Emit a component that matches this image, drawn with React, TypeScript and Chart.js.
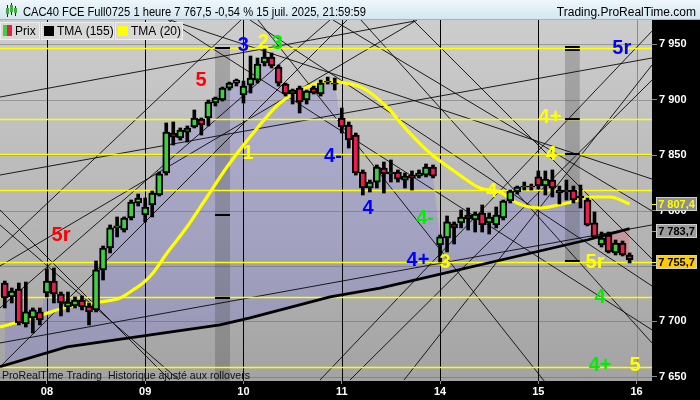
import React, { useEffect, useRef } from "react";
import { Chart, registerables } from "chart.js";

Chart.register(...registerables);

const FONT = '"Liberation Sans", Arial, sans-serif';

// ---- axes ----
const dayTickIdx = [6, 20, 34, 48, 62, 76, 90];
const dayTickLabels = ["08", "09", "10", "11", "14", "15", "16"];
const yTicks = [7650, 7700, 7750, 7800, 7850, 7900, 7950];
const xMin = -0.68;
const xMax = 92.19;
const yMin = 7646.2;
const yMax = 7971.9;

// ---- hourly candles ----
const opens = [
  7734.6, 7722.0, 7729.2, 7697.6, 7703.1, 7708.5, 7725.6, 7736.4, 7724.7, 7713.0,
  7713.9, 7719.3, 7713.9, 7710.3, 7746.4, 7766.2, 7784.3, 7782.4, 7793.3, 7806.8,
  7796.0, 7805.0, 7814.0, 7833.9, 7869.9, 7865.4, 7870.8, 7875.4, 7882.6, 7883.5,
  7897.0, 7899.7, 7910.5, 7915.0, 7904.2, 7913.2, 7917.7, 7933.1, 7938.5, 7929.5,
  7914.1, 7905.1, 7910.5, 7899.7, 7910.5, 7905.1, 7915.9, 7915.0, 7883.5, 7877.2,
  7868.1, 7834.8, 7820.3, 7825.7, 7838.4, 7833.0, 7834.8, 7827.5, 7832.0, 7831.1,
  7832.0, 7839.3, 7768.9, 7775.2, 7787.9, 7788.8, 7796.0, 7791.5, 7797.8, 7788.8,
  7787.0, 7793.3, 7808.6, 7816.7, 7821.2, 7822.1, 7830.3, 7822.1, 7827.5, 7818.5,
  7816.7, 7818.5, 7813.1, 7809.5, 7788.8, 7768.9, 7777.9, 7761.7, 7770.7, 7759.9,
];
const highs = [
  7736.4, 7730.1, 7734.6, 7735.5, 7712.1, 7712.1, 7747.3, 7748.2, 7726.5, 7726.5,
  7722.0, 7722.9, 7716.6, 7754.5, 7768.0, 7787.0, 7794.2, 7794.2, 7809.5, 7814.9,
  7811.3, 7817.6, 7834.8, 7879.0, 7879.9, 7874.5, 7876.3, 7890.7, 7883.5, 7899.7,
  7902.4, 7911.4, 7915.9, 7918.6, 7916.8, 7939.4, 7937.6, 7945.7, 7942.1, 7931.3,
  7915.0, 7909.6, 7912.3, 7908.7, 7912.3, 7917.7, 7920.4, 7919.5, 7892.5, 7879.9,
  7869.9, 7836.6, 7827.5, 7841.1, 7843.8, 7845.6, 7836.6, 7833.9, 7835.7, 7836.6,
  7842.0, 7841.1, 7777.9, 7795.1, 7789.7, 7800.5, 7802.3, 7798.7, 7805.0, 7797.8,
  7803.2, 7809.5, 7818.5, 7822.1, 7825.7, 7823.9, 7835.7, 7835.7, 7836.6, 7822.1,
  7827.5, 7822.1, 7823.0, 7811.3, 7798.7, 7780.6, 7780.6, 7773.4, 7772.5, 7761.7,
];
const lows = [
  7712.1, 7716.6, 7696.8, 7694.9, 7689.5, 7696.8, 7722.0, 7716.6, 7704.9, 7708.5,
  7712.1, 7710.3, 7696.8, 7708.5, 7737.3, 7761.7, 7776.2, 7780.6, 7791.5, 7804.1,
  7789.7, 7794.2, 7813.1, 7832.0, 7859.1, 7863.6, 7861.8, 7874.5, 7868.1, 7876.3,
  7894.3, 7898.8, 7908.7, 7912.3, 7897.0, 7906.0, 7915.0, 7930.4, 7928.6, 7912.3,
  7903.3, 7896.1, 7888.0, 7896.1, 7905.1, 7903.3, 7914.1, 7908.7, 7869.9, 7856.4,
  7832.0, 7814.0, 7816.7, 7820.3, 7815.8, 7825.7, 7825.7, 7820.3, 7818.5, 7829.4,
  7830.3, 7829.4, 7753.6, 7762.6, 7769.8, 7784.3, 7782.4, 7780.6, 7780.6, 7778.8,
  7784.3, 7791.5, 7806.8, 7814.9, 7818.5, 7818.5, 7819.4, 7814.0, 7812.2, 7805.9,
  7809.5, 7806.8, 7802.3, 7786.1, 7775.2, 7767.1, 7761.7, 7759.9, 7759.0, 7752.7,
];
const closes = [
  7721.1, 7727.4, 7698.5, 7708.5, 7710.3, 7701.3, 7736.4, 7724.7, 7716.6, 7717.5,
  7719.3, 7713.0, 7708.5, 7746.4, 7766.2, 7784.3, 7786.1, 7793.3, 7807.7, 7811.3,
  7803.2, 7815.8, 7833.0, 7870.8, 7866.3, 7872.6, 7874.5, 7883.5, 7877.2, 7897.9,
  7901.5, 7910.5, 7915.0, 7917.7, 7912.3, 7919.5, 7932.2, 7938.5, 7930.4, 7915.0,
  7905.1, 7908.7, 7897.9, 7907.8, 7906.0, 7915.0, 7916.8, 7914.1, 7875.4, 7863.6,
  7833.9, 7820.3, 7825.7, 7839.3, 7833.0, 7834.8, 7828.4, 7831.1, 7829.4, 7833.9,
  7839.3, 7831.1, 7776.2, 7789.7, 7784.3, 7794.2, 7792.4, 7796.9, 7787.0, 7794.2,
  7796.0, 7808.6, 7817.6, 7821.2, 7822.1, 7821.2, 7822.1, 7828.4, 7820.3, 7815.8,
  7818.5, 7809.5, 7811.3, 7787.0, 7776.2, 7775.2, 7762.6, 7770.7, 7759.9, 7755.7,
];

// ---- moving averages (read at sample bars) ----
const tma155Idx = [-0.68, 8.86, 30.66, 34.93, 46.33, 53.45, 82.94, 89];
const tma155Val = [7659.1, 7676.9, 7696.8, 7703.1, 7722.0, 7730.1, 7773.4, 7783.7];
const tma20Idx = [
  -0.68, 4.02, 8.86, 13.56, 16.41, 18.26, 19.69, 21.11, 23.11, 25.95, 28.8, 31.65,
  34.93, 39.2, 43.05, 46.33, 47.75, 51.03, 54.43, 57.29, 60.57, 64.42, 67.69, 70.54,
  72.96, 76.24, 80.08, 83.79, 86.21, 89,
];
const tma20Val = [
  7694.9, 7703.1, 7713.0, 7717.5, 7721.1, 7728.3, 7734.6, 7743.7, 7761.7, 7785.1, 7812.2, 7839.3,
  7866.3, 7897.0, 7911.4, 7916.8, 7915.9, 7910.5, 7893.4, 7872.6, 7851.9, 7833.8, 7820.3, 7816.7,
  7806.8, 7802.3, 7806.8, 7812.2, 7812.2, 7806.0,
];

// ---- horizontal levels ----
const yellowLevels = [7946.6, 7882.6, 7851.0, 7818.5, 7753.6, 7722.0, 7658.9];

// ---- trend lines (bar index, value) ----
const lineX1 = [-0.68, -0.68, -0.68, -0.68, -0.68, -0.68, 44.9, 56.87, 49.17, -0.68, -0.68, -0.68, 23.25, 58.15, 50.74, 46.75, 23.53, 36.07, 34.93];
const lineV1 = [7902.4, 7832.05, 7680.5, 7712.1, 7658.9, 7750.0, 7647.1, 7647.1, 7647.1, 7766.2, 7787.0, 7800.5, 7971.9, 7971.9, 7971.9, 7971.9, 7971.9, 7971.9, 7971.9];
const lineX2 = [58.43, 92.19, 92.19, 46.32, 48.75, 58.72, 92.19, 92.19, 92.19, 33.65, 24.81, 23.53, 92.19, 92.19, 92.19, 92.19, 92.19, 76.95, 92.19];
const lineV2 = [7971.0, 7937.6, 7787.0, 7971.9, 7971.9, 7971.9, 7961.9, 7931.3, 7917.7, 7971.9, 7647.1, 7647.1, 7692.3, 7756.3, 7680.5, 7799.6, 7828.4, 7645.3, 7731.9];

// ---- shaded time bands ----
const bandFrom = [29.95, 79.8];
const bandTo = [32.08, 81.9];
const bandTop = [7947.5, 7947.5];
const bandBottom = [7646.2, 7753.6];
const bandMarkBand = [0, 0, 0, 1, 1, 1, 1, 1];
const bandMarkVal = [7946.6, 7796.0, 7721.1, 7947.5, 7944.8, 7882.6, 7851.0, 7754.5];

// ---- wave labels ----
const waveText = ["5r", "5", "3", "2", "3", "1", "4-", "4", "4-", "4+", "3", "4-", "4", "4+", "5r", "5r", "4", "4+", "5"];
const waveColor = ["#ff0000", "#ff0000", "#0000ff", "#ffff00", "#00ee00", "#ffff00", "#0000ff", "#0000ff", "#00ee00", "#0000ff", "#ffff00", "#ffff00", "#ffff00", "#ffff00", "#0000ff", "#ffff00", "#00ee00", "#00ee00", "#ffff00"];
const waveIdx = [8.01, 27.95, 33.97, 36.82, 38.82, 34.64, 46.75, 51.74, 59.86, 58.86, 62.71, 69.83, 77.81, 77.66, 87.88, 84.07, 84.79, 84.79, 89.77];
const waveVal = [7778.8, 7918.6, 7949.6, 7952.6, 7952.0, 7852.8, 7850.1, 7802.3, 7793.3, 7755.4, 7753.6, 7818.5, 7851.9, 7884.4, 7947.2, 7753.6, 7722.9, 7660.7, 7660.7];

// ---- last value boxes ----
const boxVal = [7807.4, 7783.7, 7755.7];
const boxText = ["7 807,4", "7 783,7", "7 755,7"];
const boxBg = ["#8f8f8f", "#9d9d9d", "#ffcc00"];
const boxFg = ["#ffff00", "#000000", "#000000"];
const boxTick = ["#ffff00", "#9d9d9d", "#ffff00"];

const titleText = "CAC40 FCE Full0725 1 heure 7 767,5 -0,54 % 15 juil. 2025, 21:59:59";
const siteText = "Trading.ProRealTime.com";
const footerText = "ProRealTime Trading  Historique ajusté aux rollovers";
const legendText = ["Prix", "TMA (155)", "TMA (20)"];

function fmt(v: number): string {
  const s = String(v);
  return s.slice(0, s.length - 3) + " " + s.slice(-3);
}

export default function App() {
  const canvasRef = useRef<HTMLCanvasElement | null>(null);

  useEffect(() => {
    document.body.style.margin = "0";
    const canvas = canvasRef.current;
    if (!canvas) return;

    const upColor = "#3fd03f";
    const downColor = "#e81f4b";
    const bodyColors = closes.map((c, i) => (c >= opens[i] ? upColor : downColor));
    const lastBar = closes.length - 1;

    const overlay: any = {
      id: "overlay",
      beforeDraw(chart: any) {
        const { ctx, chartArea: a, width, height } = chart;
        ctx.save();
        // title bar
        const tg = ctx.createLinearGradient(0, 0, 0, 20);
        tg.addColorStop(0, "#eef7fb");
        tg.addColorStop(1, "#d2e6ef");
        ctx.fillStyle = tg;
        ctx.fillRect(0, 0, width, 20);
        ctx.fillStyle = "#9db3bf";
        ctx.fillRect(0, 19, width, 1);
        // plot background
        const pg = ctx.createLinearGradient(0, a.top, 0, a.bottom);
        pg.addColorStop(0, "#cdcdcd");
        pg.addColorStop(1, "#a3a3a3");
        ctx.fillStyle = pg;
        ctx.fillRect(a.left, a.top, a.right - a.left, a.bottom - a.top);
        // axis backgrounds
        ctx.fillStyle = "#000";
        ctx.fillRect(a.right, a.top, width - a.right, height - a.top);
        ctx.fillRect(0, a.bottom, width, height - a.bottom);
        // title icon
        ctx.fillStyle = "#222";
        ctx.fillRect(7, 5, 1, 12);
        ctx.fillRect(11, 3, 1, 12);
        ctx.fillRect(15, 6, 1, 10);
        ctx.fillStyle = "#3fb03f";
        ctx.fillRect(6, 8, 3, 6);
        ctx.fillRect(10, 5, 3, 7);
        ctx.fillRect(14, 8, 3, 5);
        // title texts
        ctx.fillStyle = "#000";
        ctx.font = "12px " + FONT;
        ctx.textBaseline = "alphabetic";
        ctx.textAlign = "left";
        ctx.fillText(titleText, 23, 15.5, 343);
        ctx.textAlign = "right";
        ctx.fillText(siteText, 696, 15.5);
        ctx.restore();
      },
      beforeDatasetsDraw(chart: any) {
        const { ctx, chartArea: a, scales } = chart;
        const xs = scales.x;
        const ys = scales.y;
        ctx.save();
        ctx.beginPath();
        ctx.rect(a.left, a.top, a.right - a.left, a.bottom - a.top);
        ctx.clip();
        // grid
        ctx.strokeStyle = "rgba(95,95,95,0.45)";
        ctx.lineWidth = 1;
        yTicks.forEach((v) => {
          const y = Math.round(ys.getPixelForValue(v)) + 0.5;
          ctx.beginPath();
          ctx.moveTo(a.left, y);
          ctx.lineTo(a.right, y);
          ctx.stroke();
        });
        // bands
        ctx.fillStyle = "rgba(55,55,55,0.25)";
        bandFrom.forEach((f, i) => {
          const x1 = xs.getPixelForValue(f);
          const x2 = xs.getPixelForValue(bandTo[i]);
          const y1 = ys.getPixelForValue(bandTop[i]);
          const y2 = ys.getPixelForValue(bandBottom[i]);
          ctx.fillRect(x1, y1, x2 - x1, y2 - y1);
        });
        // day separators
        dayTickIdx.forEach((d) => {
          const x = Math.round(xs.getPixelForValue(d)) + 0.5;
          ctx.strokeStyle = d > lastBar ? "#8a8a8a" : "#000";
          ctx.beginPath();
          ctx.moveTo(x, a.top);
          ctx.lineTo(x, a.bottom);
          ctx.stroke();
        });
        // trend lines
        ctx.strokeStyle = "rgba(10,10,10,0.9)";
        ctx.lineWidth = 1;
        lineX1.forEach((x1, i) => {
          ctx.beginPath();
          ctx.moveTo(xs.getPixelForValue(x1), ys.getPixelForValue(lineV1[i]));
          ctx.lineTo(xs.getPixelForValue(lineX2[i]), ys.getPixelForValue(lineV2[i]));
          ctx.stroke();
        });
        // yellow levels
        ctx.strokeStyle = "#ffff00";
        ctx.lineWidth = 1.5;
        yellowLevels.forEach((v) => {
          const y = Math.round(ys.getPixelForValue(v)) + 0.5;
          ctx.beginPath();
          ctx.moveTo(a.left, y);
          ctx.lineTo(a.right, y);
          ctx.stroke();
        });
        // band marks
        ctx.fillStyle = "#000";
        bandMarkVal.forEach((v, i) => {
          const b = bandMarkBand[i];
          const x1 = xs.getPixelForValue(bandFrom[b]);
          const x2 = xs.getPixelForValue(bandTo[b]);
          const y = Math.round(ys.getPixelForValue(v));
          ctx.fillRect(x1, y - 1, x2 - x1, 2);
        });
        ctx.restore();
      },
      afterDatasetsDraw(chart: any) {
        const { ctx, chartArea: a, scales } = chart;
        const xs = scales.x;
        const ys = scales.y;
        ctx.save();
        ctx.beginPath();
        ctx.rect(a.left, a.top, a.right - a.left, a.bottom - a.top);
        ctx.clip();
        ctx.font = "bold 20px " + FONT;
        ctx.textAlign = "center";
        ctx.textBaseline = "middle";
        waveText.forEach((t, i) => {
          ctx.fillStyle = waveColor[i];
          ctx.fillText(t, xs.getPixelForValue(waveIdx[i]), ys.getPixelForValue(waveVal[i]) + 1);
        });
        ctx.font = "11px " + FONT;
        ctx.textAlign = "left";
        ctx.textBaseline = "alphabetic";
        ctx.fillStyle = "#111";
        ctx.fillText(footerText, 2, a.bottom - 2, 248);
        ctx.restore();
      },
      afterDraw(chart: any) {
        const { ctx, chartArea: a, scales } = chart;
        const ys = scales.y;
        ctx.save();
        // legend boxes
        const bx = [0.5, 41.5, 115.5];
        const bw = [39, 72, 67];
        ctx.font = "12px " + FONT;
        ctx.textBaseline = "alphabetic";
        ctx.textAlign = "left";
        legendText.forEach((t, i) => {
          ctx.fillStyle = "#d8d8d8";
          ctx.fillRect(bx[i], 22.5, bw[i], 17);
          ctx.strokeStyle = "#eeeeee";
          ctx.lineWidth = 1;
          ctx.strokeRect(bx[i], 22.5, bw[i], 17);
          ctx.fillStyle = "#000";
          ctx.fillText(t, bx[i] + (i === 0 ? 14.5 : 15.5), 35);
        });
        ctx.fillStyle = "#3fd03f";
        ctx.fillRect(3, 25, 4, 11);
        ctx.fillStyle = "#e81f4b";
        ctx.fillRect(7, 25, 5, 11);
        ctx.fillStyle = "#000";
        ctx.fillRect(44, 26, 10, 10);
        ctx.fillStyle = "#ffff00";
        ctx.fillRect(118, 26, 10, 10);
        // last value boxes
        ctx.font = "bold 11px " + FONT;
        ctx.textAlign = "center";
        ctx.textBaseline = "middle";
        boxVal.forEach((v, i) => {
          const y = Math.round(ys.getPixelForValue(v)) + 2;
          ctx.fillStyle = boxTick[i];
          ctx.fillRect(a.right, y, 5, 1);
          ctx.fillStyle = boxBg[i];
          ctx.fillRect(656.5, y - 7, 40, 14);
          ctx.strokeStyle = "#cfcfcf";
          ctx.lineWidth = 1;
          ctx.strokeRect(656.5, y - 6.5, 40, 13);
          ctx.fillStyle = boxFg[i];
          ctx.fillText(boxText[i], 676.5, y + 0.5);
        });
        ctx.restore();
      },
    };

    const chart = new Chart(canvas, {
      type: "line",
      data: {
        datasets: [
          {
            type: "line",
            label: "TMA (20)",
            data: tma20Idx.map((x, i) => ({ x, y: tma20Val[i] })),
            borderColor: "#ffff00",
            borderWidth: 3.2,
            pointRadius: 0,
            cubicInterpolationMode: "monotone",
            fill: false,
            order: 2,
          },
          {
            type: "line",
            label: "TMA (155)",
            data: tma155Idx.map((x, i) => ({ x, y: tma155Val[i] })),
            borderColor: "#000000",
            borderWidth: 2.8,
            pointRadius: 0,
            fill: false,
            order: 3,
          },
          {
            type: "line",
            label: "Prix",
            data: closes.map((y, x) => ({ x, y })),
            borderColor: "rgba(0,0,0,0)",
            borderWidth: 1,
            pointRadius: 0,
            fill: { target: 1, above: "rgba(110,110,230,0.25)", below: "rgba(230,90,110,0.3)" },
            order: 4,
          },
          {
            type: "bar",
            label: "wick",
            data: lows.map((l, x) => ({ x, y: [l, highs[x]] })),
            backgroundColor: "#000000",
            borderWidth: 0,
            barThickness: 3,
            grouped: false,
            order: 1,
          },
          {
            type: "bar",
            label: "body",
            data: opens.map((o, x) => ({ x, y: [o, closes[x]] })),
            backgroundColor: bodyColors,
            borderColor: "#000000",
            borderWidth: 2,
            borderSkipped: false,
            barThickness: 7,
            grouped: false,
            order: 0,
          },
        ] as any,
      },
      options: {
        responsive: false,
        animation: false,
        devicePixelRatio: 1,
        events: [],
        layout: { padding: { top: 20, left: 0, right: 0, bottom: 0 } },
        plugins: {
          legend: { display: false },
          tooltip: { enabled: false },
          filler: { drawTime: "beforeDatasetsDraw" },
        } as any,
        scales: {
          x: {
            type: "linear",
            min: xMin,
            max: xMax,
            offset: false,
            afterBuildTicks: (s: any) => {
              s.ticks = dayTickIdx.map((v) => ({ value: v }));
            },
            afterFit: (s: any) => {
              s.height = 19;
            },
            grid: { display: true, drawOnChartArea: false, drawTicks: true, tickLength: 3, color: "#8a8a8a", offset: false },
            border: { display: false },
            ticks: {
              autoSkip: false,
              maxRotation: 0,
              padding: 1,
              color: "#ffffff",
              font: { family: FONT, size: 11, weight: "bold" },
              callback: (v: any) => {
                const k = dayTickIdx.indexOf(Number(v));
                return k >= 0 ? dayTickLabels[k] : "";
              },
            },
          },
          y: {
            type: "linear",
            position: "right",
            min: yMin,
            max: yMax,
            afterBuildTicks: (s: any) => {
              s.ticks = yTicks.map((v) => ({ value: v }));
            },
            afterFit: (s: any) => {
              s.width = 48;
            },
            grid: { display: true, drawOnChartArea: false, drawTicks: true, tickLength: 5, color: "#8a8a8a" },
            border: { display: false },
            ticks: {
              autoSkip: false,
              padding: 2,
              color: "#ffffff",
              font: { family: FONT, size: 11, weight: "bold" },
              callback: (v: any) => fmt(Number(v)),
            },
          },
        } as any,
      },
      plugins: [overlay],
    } as any);

    return () => chart.destroy();
  }, []);

  return (
    <div style={{ position: "absolute", left: 0, top: 0, width: 700, height: 400 }}>
      <canvas ref={canvasRef} width={700} height={400} style={{ display: "block", width: 700, height: 400 }} />
    </div>
  );
}
